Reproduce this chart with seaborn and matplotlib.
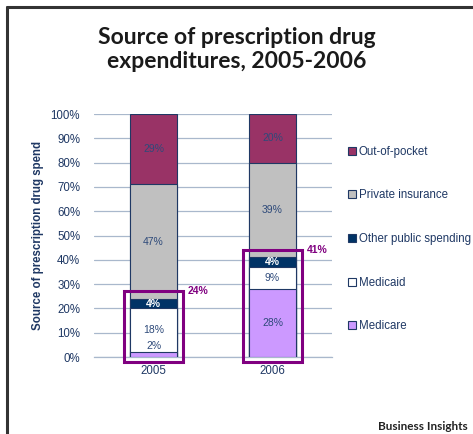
import numpy as np
import pandas as pd
import seaborn as sns
import matplotlib
matplotlib.use("Agg")
import matplotlib.pyplot as plt
from matplotlib.lines import Line2D
from matplotlib.patches import Rectangle

years = ["2005", "2006"]
sources = ["Medicare", "Medicaid", "Other public spending", "Private insurance", "Out-of-pocket"]
medicare = [2, 28]
medicaid = [18, 9]
other_public = [4, 4]
private_insurance = [47, 39]
out_of_pocket = [29, 20]
public_totals = [24, 41]
y_ticks = [0, 10, 20, 30, 40, 50, 60, 70, 80, 90, 100]

colors = {
    "Medicare": "#CC99FF",
    "Medicaid": "#FFFFFF",
    "Other public spending": "#003366",
    "Private insurance": "#C0C0C0",
    "Out-of-pocket": "#993366",
}
label_colors = {
    "Medicare": "#2E4A7A",
    "Medicaid": "#2E4A7A",
    "Other public spending": "#FFFFFF",
    "Private insurance": "#2E4A7A",
    "Out-of-pocket": "#2E4A7A",
}
navy = "#1F3864"
grid_col = "#A9B8CC"
highlight = "#800080"

sns.set_theme(style="white")
plt.rcParams["font.family"] = ["Liberation Sans", "DejaVu Sans"]

series = [medicare, medicaid, other_public, private_insurance, out_of_pocket]
rows = []
for src, vals in zip(sources, series):
    for yr, v in zip(years, vals):
        rows.append({"year": yr, "source": src, "value": v})
df = pd.DataFrame(rows)
df["bottom"] = df.groupby("year")["value"].cumsum() - df["value"]
df["top"] = df["bottom"] + df["value"]

fig = plt.figure(figsize=(4.73, 4.34), dpi=100)
ax = fig.add_axes([94 / 473, 1 - 357 / 434, (332 - 94) / 473, (357 - 114) / 434])

# stacked bars: draw cumulative tops from the highest segment down
for src in reversed(sources):
    sub = df[df["source"] == src]
    sns.barplot(data=sub, x="year", y="top", order=years, color=colors[src],
                width=0.4, edgecolor=navy, linewidth=0.8, saturation=1,
                ax=ax, zorder=3)

# value labels inside segments
for _, r in df.iterrows():
    xi = years.index(r["year"])
    yc = r["bottom"] + r["value"] / 2
    if r["source"] == "Medicare" and r["value"] < 5:
        yc = r["top"] + 2.5
    ax.text(xi, yc, f"{int(r['value'])}%", ha="center", va="center",
            fontsize=7.5, color=label_colors[r["source"]], zorder=5,
            fontweight="bold" if r["source"] == "Other public spending" else "normal")

# public-spending highlight boxes and totals
for xi, tot in enumerate(public_totals):
    ax.add_patch(Rectangle((xi - 0.245, -2), 0.49, tot + 5, fill=False,
                           edgecolor=highlight, linewidth=2.2, zorder=6,
                           clip_on=False))
    ax.text(xi + 0.29, tot + 3.2, f"{tot}%", ha="left", va="center",
            fontsize=7.5, fontweight="bold", color=highlight)

ax.set_xlim(-0.5, 1.5)
ax.set_ylim(0, 100)
ax.set_yticks(y_ticks)
ax.set_yticklabels([f"{t}%" for t in y_ticks])
ax.yaxis.grid(True, color=grid_col, linewidth=0.9, zorder=0)
ax.set_axisbelow(True)
for s in ["left", "right", "top"]:
    ax.spines[s].set_visible(False)
ax.spines["bottom"].set_color(grid_col)
ax.spines["bottom"].set_linewidth(0.9)
ax.tick_params(axis="y", length=0, labelsize=8.3, labelcolor=navy, pad=10)
ax.tick_params(axis="x", which="major", length=0, labelsize=8.3, labelcolor=navy, pad=6)
ax.set_xticks([-0.5, 0.5, 1.5], minor=True)
ax.tick_params(axis="x", which="minor", length=4, color=grid_col, width=0.9, direction="out")
ax.set_xlabel("")
ax.set_ylabel("Source of prescription drug spend", fontsize=8.3, fontweight="bold",
              color=navy, labelpad=5)

# legend
handles = [Line2D([0], [0], marker="s", linestyle="", markersize=6,
                  markerfacecolor=colors[s], markeredgecolor=navy, markeredgewidth=0.8)
           for s in reversed(sources)]
fig.legend(handles, list(reversed(sources)), loc="upper left",
           bbox_to_anchor=(342 / 473, 1 - 141 / 434), frameon=False,
           fontsize=8.3, labelspacing=2.75, handletextpad=0.05, handlelength=1.0,
           labelcolor=navy, borderaxespad=0)

title_font = ["Lato", "DejaVu Sans"]
fig.text(0.5, 1 - 38 / 434, "Source of prescription drug", ha="center", va="center",
         fontsize=16.5, fontweight="bold", color="#1A1A1A", family=title_font)
fig.text(0.5, 1 - 61 / 434, "expenditures, 2005-2006", ha="center", va="center",
         fontsize=16.5, fontweight="bold", color="#1A1A1A", family=title_font)
fig.text(468 / 473, 1 - 426 / 434, "Business Insights", ha="right", va="center",
         fontsize=8.5, fontweight="bold", color="#222222", family=title_font)

# outer frame lines
fig.add_artist(Line2D([6.5 / 473, 6.5 / 473], [0, 1 - 7 / 434], transform=fig.transFigure,
                      color="#333333", linewidth=2.2))
fig.add_artist(Line2D([6.5 / 473, 1], [1 - 7 / 434, 1 - 7 / 434], transform=fig.transFigure,
                      color="#333333", linewidth=2.2))

fig.savefig("out.png", dpi=100)
